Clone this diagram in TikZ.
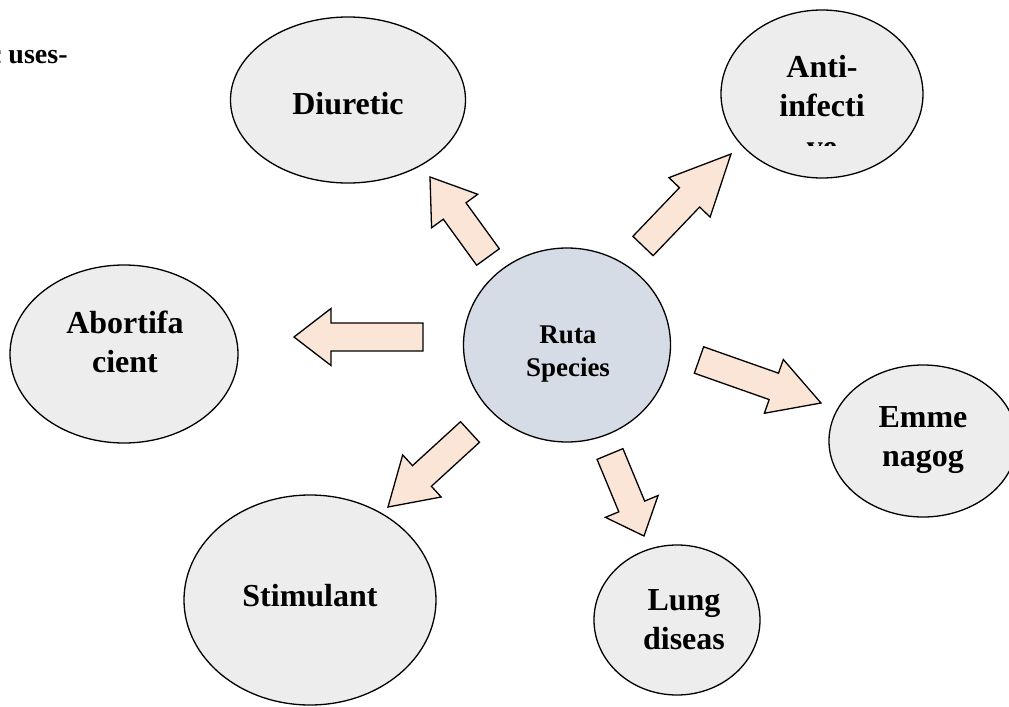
\documentclass[tikz,border=0pt]{standalone}
\usepackage{fontspec}
\setmainfont{Liberation Serif}
\usetikzlibrary{calc,shapes.geometric}

\definecolor{usegray}{HTML}{EDEDED}
\definecolor{rutablue}{HTML}{D6DCE5}
\definecolor{arrowpeach}{HTML}{FBE5D6}

% block arrow from tail #1 to tip #2, head length #3
\newcommand{\blockarr}[3]{%
  \coordinate (ba-b) at ($(#2)!#3!(#1)$);
  \draw[arrowbox] ($(#1)!7pt!90:(#2)$) -- ($(ba-b)!7pt!90:(#2)$)
    -- ($(ba-b)!14.25pt!90:(#2)$) -- (#2)
    -- ($(ba-b)!14.25pt!-90:(#2)$) -- ($(ba-b)!7pt!-90:(#2)$)
    -- ($(#1)!7pt!-90:(#2)$) -- cycle;}

\begin{document}
\begin{tikzpicture}[
          x=0.5pt, y=-0.5pt,
          lab/.style={align=center, inner sep=0pt,
            font=\fontsize{16}{19.5}\selectfont\bfseries},
          smlab/.style={align=center, inner sep=0pt,
            font=\fontsize{13.5}{16.5}\selectfont\bfseries},
          use/.style={ellipse, draw, line width=0.65pt, fill=usegray, inner sep=0pt},
          arrowbox/.style={draw, line width=0.65pt, fill=arrowpeach}
        ]
        % Fixed-coordinate geometry, one unit = one pixel of the page.
        \useasboundingbox (0,0) rectangle (1009,707);

        \node[anchor=base east, smlab, font=\fontsize{14}{16}\selectfont\bfseries]
            (uses) at (68,63) {c uses-};

        \node[use, fill=rutablue, minimum width=103.5pt, minimum height=97pt]
            (ruta) at (567,345) {};
        \node[use, minimum width=117.5pt, minimum height=83pt] (diur) at (348,100) {};
        \node[use, minimum width=101pt, minimum height=84pt] (anti) at (822,94) {};
        \node[use, minimum width=114pt, minimum height=89pt] (abort) at (124,354) {};
        \node[use, minimum width=94pt, minimum height=76pt] (emme) at (923,441) {};
        \node[use, minimum width=83pt, minimum height=75pt] (lung) at (677,620) {};
        \node[use, minimum width=126pt, minimum height=105pt] (stim) at (310,600) {};

        \node[smlab] (rutalab) at (568,354) {Ruta\\Species};
        \node[lab] (diurlab) at (348,104) {Diuretic};
        \node[lab] (antilab) at (822,86) {Anti-\\infecti};
        \begin{scope}
          \clip (780,120) rectangle (870,145);
          \node[lab, anchor=base] (antive) at (822,157) {ve};
        \end{scope}
        \node[lab] (abortlab) at (125,342) {Abortifa\\cient};
        \node[lab] (emmelab) at (923,440) {Emme\\nagog};
        \node[lab] (lunglab) at (684,620) {Lung\\diseas};
        \node[lab] (stimlab) at (310,596) {Stimulant};

        \coordinate (t1) at (488,257); \coordinate (h1) at (430,177);
        \coordinate (t2) at (643,246); \coordinate (h2) at (731,154);
        \coordinate (t3) at (423,337); \coordinate (h3) at (294,337);
        \coordinate (t4) at (699,360); \coordinate (h4) at (821,403);
        \coordinate (t5) at (470,432); \coordinate (h5) at (388,507);
        \coordinate (t6) at (610,454); \coordinate (h6) at (644,536);
        \blockarr{t1}{h1}{21pt}
        \blockarr{t2}{h2}{30pt}
        \blockarr{t3}{h3}{18.5pt}
        \blockarr{t4}{h4}{25pt}
        \blockarr{t5}{h5}{23pt}
        \blockarr{t6}{h6}{16pt}
      \end{tikzpicture}
\end{document}
